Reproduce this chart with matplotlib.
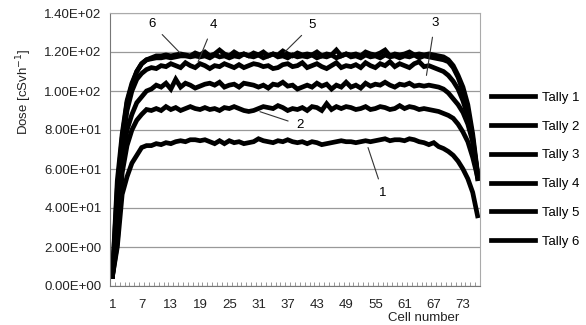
import matplotlib.pyplot as plt

# Dose per cell for the six tallies
cells = list(range(1, 77))

tally_1 = [5, 20, 47, 56, 63, 67, 71, 72, 72, 73,
           72.5, 73.5, 73, 74, 74.5, 74, 75, 75, 74.5, 75,
           74, 73, 74.5, 73, 74.5, 73.5, 74, 73, 73.5, 74,
           75.5, 74.5, 74, 73.5, 74.5, 74, 75, 74, 73.5, 74,
           73, 74, 73.5, 72.5, 73, 73.5, 74, 74.5, 74, 74,
           73.5, 74, 74.5, 74, 74.5, 75, 75.5, 74.5, 75, 75,
           74.5, 75.5, 75, 74, 73.5, 72.5, 73.5, 71.5, 70.5, 69,
           67, 64, 60, 55, 48, 36]

tally_2 = [5, 22, 58, 72, 80, 85, 88, 90.5, 90, 91,
           90, 92, 90.5, 91.5, 90, 91, 92, 91, 90.5, 91.5,
           90.5, 91, 90, 91.5, 91, 92, 91, 90, 89.5, 90,
           91, 92, 91.5, 91, 92.5, 91.5, 90, 91, 90.5, 91.5,
           90, 92, 91.5, 90, 93.5, 90.5, 92, 91, 92, 91.5,
           90.5, 91, 92, 90.5, 91, 92, 91.5, 90.5, 91, 92.5,
           91, 92, 91.5, 90.5, 91, 90.5, 90, 89.5, 88.5, 87.5,
           86, 83, 79, 74, 66, 56]

tally_3 = [5, 30, 65, 80, 88, 94, 97, 100, 101, 103,
           102, 104, 101, 106, 102, 104, 103, 101.5, 102.5, 103.5,
           104, 103, 104.5, 102, 103, 103.5, 102, 104, 103.5, 103,
           102, 103, 101.5, 103.5, 103, 104.5, 102.5, 103, 101, 102,
           103, 102, 104, 102.5, 103.5, 101, 103, 102, 104.5, 102,
           103, 101.5, 104, 102.5, 103.5, 103, 104.5, 103, 102, 103.5,
           103, 104, 102.5, 103, 102.5, 103, 102.5, 102, 101, 99,
           96, 93, 89, 83, 74, 58]

tally_4 = [5, 40, 72, 90, 100, 106, 109, 111, 112, 111.5,
           113, 112.5, 114, 113, 112, 114.5, 113, 112, 114, 113,
           111.5, 113, 112.5, 114, 113, 112, 113.5, 112, 113, 114,
           113.5, 112.5, 113, 111.5, 112, 113.5, 114, 112.5, 113, 114.5,
           112, 113, 114, 112.5, 111.5, 113, 114.5, 112, 113, 112.5,
           113.5, 112, 114.5, 113, 112, 114, 113, 115, 112.5, 114,
           113, 112, 114, 115, 112.5, 113, 112, 111, 110, 108,
           105, 101, 95, 87, 75, 55]

tally_5 = [5, 50, 76, 94, 103, 110, 114, 116, 117, 118,
           118, 118.5, 118, 118.5, 119, 118.5, 118, 119.5, 118.5, 120,
           118, 119, 121, 119, 118, 120, 118.5, 119, 118, 119.5,
           118.5, 120, 118, 119, 118.5, 120.5, 119, 118, 119.5, 118.5,
           119, 118.5, 120, 118, 119, 118.5, 121, 118, 119, 118.5,
           119, 118, 120, 119, 118.5, 119.5, 121, 118, 119, 118.5,
           119, 120, 118.5, 119, 118.5, 119, 118.5, 118, 117.5, 116,
           113, 108, 102, 93, 78, 58]

tally_6 = [5, 54, 78, 95, 104, 110, 114, 116, 116.5, 117,
           117, 117.5, 117, 117.5, 118, 118, 117.5, 118, 117.5, 118,
           117, 118.5, 117.5, 118, 117, 118, 117.5, 119, 118, 117.5,
           118.5, 117, 118, 119, 117.5, 118, 117, 118.5, 117.5, 118,
           117.5, 118.5, 117, 118, 117.5, 118.5, 117, 118, 119, 117.5,
           118, 117, 118.5, 117.5, 118, 117, 118.5, 117.5, 118, 117,
           118, 117.5, 118.5, 117, 118, 117.5, 117, 116.5, 116, 115,
           112, 107, 100, 90, 76, 57]

tallies = [tally_1, tally_2, tally_3, tally_4, tally_5, tally_6]
tally_names = ["Tally 1", "Tally 2", "Tally 3", "Tally 4", "Tally 5", "Tally 6"]

y_ticks = [0, 20, 40, 60, 80, 100, 120, 140]
y_tick_labels = ["0.00E+00", "2.00E+00", "4.00E+01", "6.00E+01",
                 "8.00E+01", "1.00E+02", "1.20E+02", "1.40E+02"]
x_ticks = list(range(1, 77, 6))

# curve labels: text, label position, point on the curve
callouts = [("6", (9.1, 134.4), (14.9, 119.5)),
            ("4", (21.7, 133.8), (18.6, 115)),
            ("5", (42.0, 133.8), (36.4, 120)),
            ("3", (67.2, 134.9), (65.5, 108)),
            ("2", (39.5, 82.6), (31.3, 89.4)),
            ("1", (56.6, 47.7), (53.5, 71))]

plt.rcParams['font.family'] = ['Liberation Sans', 'DejaVu Sans']

fig = plt.figure(figsize=(5.86, 3.25), dpi=100)
ax = fig.add_axes([0.1877, 0.12, 0.6314, 0.84])

for values, name in zip(tallies, tally_names):
    ax.plot(cells, values, color="black", linewidth=3.4, label=name,
            solid_joinstyle="miter")

for text, text_pos, point in callouts:
    ax.annotate(text, xy=point, xytext=text_pos, fontsize=9.5,
                ha="center", va="center",
                arrowprops=dict(arrowstyle="-", color="#333333", lw=0.8,
                                shrinkA=4, shrinkB=0))

ax.set_xlim(0.5, 76.5)
ax.set_ylim(0, 140)
ax.set_yticks(y_ticks)
ax.set_yticklabels(y_tick_labels, fontsize=9.5, color="#222222")
ax.set_xticks(x_ticks)
ax.set_xticklabels([str(t) for t in x_ticks], fontsize=9.5, color="#222222")
ax.set_xticks([c + 0.5 for c in range(0, 77)], minor=True)
ax.tick_params(axis="y", length=0, pad=6)
ax.tick_params(axis="x", which="major", length=0, pad=9)
ax.tick_params(axis="x", which="minor", direction="in", length=3,
               width=0.6, color="#888888")

ax.grid(axis="y", color="#999999", linewidth=0.9)
ax.set_axisbelow(True)
for side in ["top", "right"]:
    ax.spines[side].set_color("#aaaaaa")
for side in ["left", "bottom"]:
    ax.spines[side].set_color("#777777")

ax.set_xlabel("Cell number", fontsize=9.5, color="#222222")
ax.xaxis.set_label_coords(0.847, -0.095)
ax.set_ylabel("Dose [cSvh$^{-1}$]", fontsize=9.5, color="#222222")
ax.yaxis.set_label_coords(-0.205, 0.71)

fig.legend(loc="center left", bbox_to_anchor=(491 / 586, 0.478),
           frameon=False, fontsize=9.5, handlelength=3.3, handletextpad=0.6,
           labelspacing=1.25, borderpad=0, borderaxespad=0)

fig.savefig("out.png", dpi=100)
